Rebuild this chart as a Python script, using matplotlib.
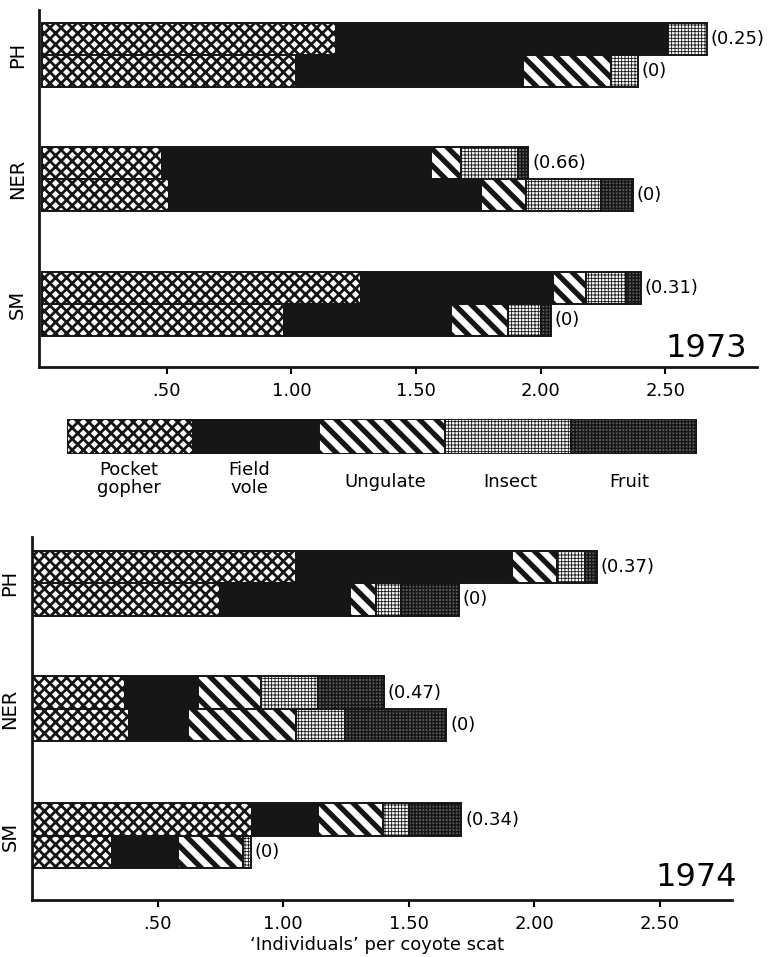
import matplotlib.pyplot as plt

sites = ['PH', 'NER', 'SM']
foods = ['Pocket\ngopher', 'Field\nvole', 'Ungulate', 'Insect', 'Fruit']
tick_vals = [0.5, 1.0, 1.5, 2.0, 2.5]
tick_labels = ['.50', '1.00', '1.50', '2.00', '2.50']

# segment widths, rows = PH, NER, SM ; columns = foods in the order above
top73 = [[1.18, 1.33, 0.00, 0.155, 0.00],
         [0.48, 1.08, 0.12, 0.23, 0.04],
         [1.28, 0.77, 0.13, 0.16, 0.06]]
bot73 = [[1.02, 0.91, 0.35, 0.11, 0.00],
         [0.51, 1.25, 0.18, 0.30, 0.13],
         [0.97, 0.67, 0.23, 0.13, 0.04]]
notes73 = ['(0.25)', '(0.66)', '(0.31)']

top74 = [[1.05, 0.86, 0.18, 0.11, 0.05],
         [0.37, 0.29, 0.25, 0.23, 0.26],
         [0.877, 0.26, 0.262, 0.10, 0.21]]
bot74 = [[0.75, 0.515, 0.105, 0.10, 0.23],
         [0.385, 0.235, 0.43, 0.195, 0.405],
         [0.32, 0.26, 0.26, 0.03, 0.00]]
notes74 = ['(0.37)', '(0.47)', '(0.34)']

# looks of each food
faces = ['white', '#161616', 'white', 'white', '#5c5c5c']
hatches = ['xxx', None, '\\\\', '+++++', '+++++']
hatch_lw = [2.0, 1.0, 3.8, 0.6, 1.0]

plt.rcParams['font.family'] = 'DejaVu Sans'
ink = '#151515'
group_pos = [9.75, 5.88, 1.97]


def seg(ax, y, left, w, k):
    with plt.rc_context({'hatch.linewidth': hatch_lw[k], 'hatch.color': ink}):
        bars = ax.barh(y, w, height=1.0, left=left, color=faces[k],
                       edgecolor=ink, hatch=hatches[k], linewidth=1.4)
    for b in bars:
        if hasattr(b, 'set_hatch_linewidth'):
            b.set_hatch_linewidth(hatch_lw[k])


def panel(ax, top, bot, notes, year, xmin, xmax, year_x, year_y):
    for i in range(len(sites)):
        for row, yc, note in ((top[i], group_pos[i] + 0.5, notes[i]),
                              (bot[i], group_pos[i] - 0.5, '(0)')):
            left = 0.0
            for k, w in enumerate(row):
                if w > 0:
                    seg(ax, yc, left, w, k)
                left += w
            ax.text(left + 0.015, yc, note, va='center', ha='left', fontsize=13)
    ax.set_xlim(xmin, xmax)
    ax.set_ylim(0, 11.17)
    ax.set_xticks(tick_vals, tick_labels, fontsize=13)
    ax.set_yticks(group_pos, sites, rotation=90, va='center', fontsize=14)
    ax.tick_params(axis='y', length=0, pad=9)
    ax.tick_params(axis='x', direction='out', length=5, width=1.5, pad=6)
    for s in ['top', 'right']:
        ax.spines[s].set_visible(False)
    for s in ['left', 'bottom']:
        ax.spines[s].set_linewidth(2)
        ax.spines[s].set_color(ink)
    ax.text(year_x, year_y, year, transform=ax.transAxes, ha='right',
            va='center', fontsize=23)


fig = plt.figure(figsize=(7.73, 9.57), dpi=100)

ax1 = fig.add_axes([0.051, 0.6165, 0.928, 0.373])
panel(ax1, top73, bot73, notes73, '1973', -0.0104, 2.866, 0.986, 0.053)

ax2 = fig.add_axes([0.0414, 0.0596, 0.9056, 0.3793])
panel(ax2, top74, bot74, notes74, '1974', 0.0, 2.787, 1.007, 0.063)

# legend strip
axl = fig.add_axes([0.0867, 0.5256, 0.815, 0.0366])
for k in range(len(foods)):
    seg(axl, 0.5, k, 1, k)
axl.set_xlim(0, 5)
axl.set_ylim(0, 1)
axl.axis('off')
label_x = [129, 249, 385, 510, 629]
label_y = [479, 479, 482, 482, 482]
for k, name in enumerate(foods):
    fig.text(label_x[k] / 773, 1 - label_y[k] / 957, name, ha='center',
             va='center', fontsize=13, linespacing=0.95)

fig.text(377 / 773, 1 - 945 / 957, '\u2018Individuals\u2019 per coyote scat',
         ha='center', va='center', fontsize=13)

fig.savefig('out.png', dpi=100)
